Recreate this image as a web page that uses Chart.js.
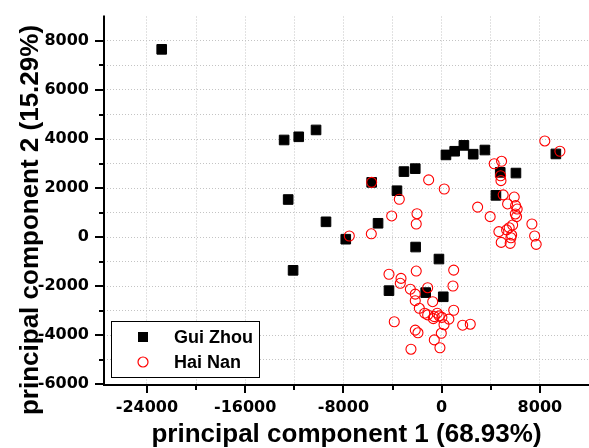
<!DOCTYPE html>
<html>
<head>
<meta charset="utf-8">
<script src="https://cdn.jsdelivr.net/npm/chart.js@4/dist/chart.umd.min.js"></script>
<style>
  html, body { margin: 0; padding: 0; background: #ffffff; }
  #wrap { width: 589px; height: 448px; }
</style>
</head>
<body>
<div id="wrap"><canvas id="c" width="589" height="448"></canvas></div>
<script>
// ---- data ----
const seriesNames = ["Gui Zhou", "Hai Nan"];

const guiZhouX = [-22800, -12830, -11640, -10230, -12500, -9420, -12100, -5700, -3640, -3070, -2150,
  350, 1060, 1810, 2570, 3520, 4770, 6050, 9300, 4420, -5180, -7810, -2120, -220, -4290, -1300, 130];
const guiZhouY = [7660, 3960, 4090, 4370, 1530, 620, -1360, 2230, 1890, 2670, 2790,
  3350, 3500, 3740, 3380, 3550, 2640, 2610, 3390, 1700, 560, -90, -410, -900, -2190, -2270, -2440];

const haiNanX = [-5700, 8400, 9630, -1060, 210, 4280, 4880, 4800, 4830, -3450, 5010, 5910, 2930, 5370,
  6020, 6150, 6000, 6100, 3950, -4070, -2010, -2070, -5730, -7520, 7350, 7570, 7700, 5780, 5500, 5290,
  4660, 5700, 5640, 4850, 5580, -2070, 980, -4290, -3310, -3370, -2550, -1140, 920, -2150, -2150, -730,
  -1820, 980, -1380, -1140, -600, -360, -200, 20, -680, 590, 190, -3860, 1710, 2330, -2150, -1930, -30,
  -600, -140, -2500];
const haiNanY = [2230, 3920, 3500, 2330, 1960, 2990, 3090, 2500, 2300, 1540, 1720, 1630, 1220, 1350,
  1280, 1140, 940, 830, 830, 860, 950, 530, 130, 40, 530, 40, -300, 490, 380, 290,
  220, 80, -30, -220, -260, -1390, -1350, -1520, -1690, -1890, -2130, -2070, -2000, -2330, -2600, -2640,
  -2910, -2990, -3110, -3180, -3250, -3110, -3220, -3280, -3330, -3350, -3580, -3460, -3600, -3560, -3800, -3910, -3930,
  -4200, -4520, -4580];

const xTickValues = [-24000, -20000, -16000, -12000, -8000, -4000, 0, 4000, 8000];
const xLabelEvery = 8000;
const yTickValues = [-6000, -5000, -4000, -3000, -2000, -1000, 0, 1000, 2000, 3000, 4000, 5000, 6000, 7000, 8000];
const yLabelEvery = 2000;

const xTitle = "principal component 1 (68.93%)";
const yTitle = "principal component 2 (15.29%)";

// ---- chart ----
const toPts = (xs, ys) => xs.map((x, i) => ({ x: x, y: ys[i] }));

const axesPlugin = {
  id: 'axesPlugin',
  afterDatasetsDraw(chart) {
    const ctx = chart.ctx;
    const xs = chart.scales.x, ys = chart.scales.y;
    const ca = chart.chartArea;
    ctx.save();
    ctx.strokeStyle = '#000';
    ctx.lineWidth = 2;
    ctx.lineCap = 'butt';
    // axis lines
    ctx.beginPath();
    ctx.moveTo(ca.left, ca.top - 1);
    ctx.lineTo(ca.left, ca.bottom + 1);
    ctx.lineTo(ca.right, ca.bottom + 1);
    ctx.stroke();
    // y ticks
    yTickValues.forEach(v => {
      const py = Math.round(ys.getPixelForValue(v));
      const len = (v % yLabelEvery === 0) ? 9 : 5;
      ctx.beginPath();
      ctx.moveTo(ca.left, py);
      ctx.lineTo(ca.left - len, py);
      ctx.stroke();
    });
    // x ticks
    xTickValues.forEach(v => {
      const px = Math.round(xs.getPixelForValue(v));
      const len = (v % xLabelEvery === 0) ? 8 : 5;
      ctx.beginPath();
      ctx.moveTo(px, ca.bottom + 1);
      ctx.lineTo(px, ca.bottom + 1 + len);
      ctx.stroke();
    });
    // axis titles
    ctx.fillStyle = '#000';
    ctx.font = 'bold 26px "Liberation Sans", Arial, sans-serif';
    ctx.textAlign = 'center';
    ctx.textBaseline = 'alphabetic';
    ctx.fillText(xTitle, (ca.left + ca.right) / 2, 442);
    ctx.save();
    ctx.translate(38, 220);
    ctx.rotate(-Math.PI / 2);
    ctx.fillText(yTitle, 0, 0);
    ctx.restore();

    // legend
    const lx = 111.5, ly = 321.5, lw = 148, lh = 56;
    ctx.fillStyle = '#fff';
    ctx.fillRect(lx, ly, lw, lh);
    ctx.lineWidth = 1;
    ctx.strokeStyle = '#000';
    ctx.strokeRect(lx, ly, lw, lh);
    const ds = chart.data.datasets;
    ctx.fillStyle = ds[0].backgroundColor;
    ctx.fillRect(138, 332, 10, 10);
    ctx.beginPath();
    ctx.arc(143, 362, 5, 0, Math.PI * 2);
    ctx.strokeStyle = ds[1].borderColor;
    ctx.lineWidth = 1.2;
    ctx.stroke();
    ctx.fillStyle = '#000';
    ctx.font = 'bold 18px "Liberation Sans", Arial, sans-serif';
    ctx.textAlign = 'left';
    ctx.textBaseline = 'middle';
    ctx.fillText(ds[0].label, 174, 338);
    ctx.fillText(ds[1].label, 174, 363);
    ctx.restore();
  }
};

new Chart(document.getElementById('c'), {
  type: 'scatter',
  data: {
    datasets: [
      {
        label: seriesNames[0],
        data: toPts(guiZhouX, guiZhouY),
        pointStyle: 'rect',
        pointRadius: 6.8,
        backgroundColor: '#000000',
        borderColor: '#000000',
        borderWidth: 1,
        order: 1
      },
      {
        label: seriesNames[1],
        data: toPts(haiNanX, haiNanY),
        pointStyle: 'circle',
        pointRadius: 5,
        backgroundColor: 'rgba(0,0,0,0)',
        borderColor: '#ff0000',
        borderWidth: 1.1,
        order: 0
      }
    ]
  },
  options: {
    responsive: false,
    animation: false,
    devicePixelRatio: 1,
    layout: { autoPadding: false, padding: { left: 0, right: 0, top: 16.5, bottom: 0 } },
    plugins: {
      legend: { display: false },
      tooltip: { enabled: false }
    },
    scales: {
      x: {
        type: 'linear',
        min: -27500,
        max: 12000,
        afterBuildTicks: (s) => { s.ticks = xTickValues.map(v => ({ value: v })); },
        afterFit: (s) => { s.height = 64; s.paddingLeft = 0; s.paddingRight = 0; },
        ticks: {
          autoSkip: false,
          maxRotation: 0,
          padding: 14,
          color: '#000',
          font: { family: '"DejaVu Sans"', size: 16, weight: 'bold' },
          callback: (v) => (v % xLabelEvery === 0 ? String(v) : '')
        },
        grid: { color: '#c4c4c4', lineWidth: 1, drawTicks: false },
        border: { display: false, dash: [1, 2] }
      },
      y: {
        type: 'linear',
        min: -6000,
        max: 9000,
        afterBuildTicks: (s) => { s.ticks = yTickValues.map(v => ({ value: v })); },
        afterFit: (s) => { s.width = 104; s.paddingTop = 0; s.paddingBottom = 0; },
        ticks: {
          autoSkip: false,
          padding: 15,
          color: '#000',
          font: { family: '"DejaVu Sans"', size: 16, weight: 'bold' },
          callback: (v) => (v % yLabelEvery === 0 ? String(v) : '')
        },
        grid: { color: '#c4c4c4', lineWidth: 1, drawTicks: false },
        border: { display: false, dash: [1, 2] }
      }
    }
  },
  plugins: [axesPlugin]
});
</script>
</body>
</html>
